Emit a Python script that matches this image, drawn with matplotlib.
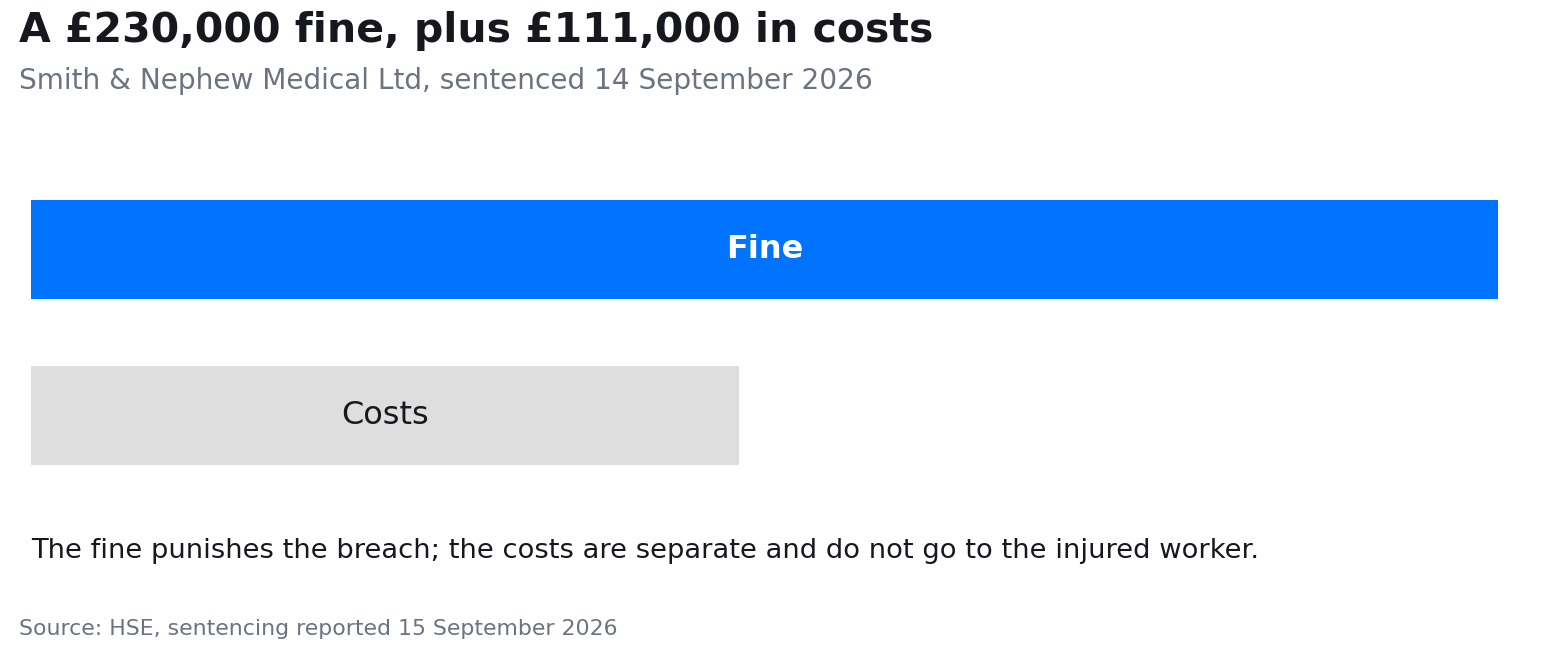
import matplotlib
matplotlib.use("Agg")
import matplotlib.pyplot as plt

# data
labels = ["Fine", "Costs"]
amounts = [230000, 111000]
bar_colors = ["#0073ff", "#dedede"]
label_colors = ["#ffffff", "#16181d"]
label_weights = ["bold", "normal"]

title = "A \u00a3230,000 fine, plus \u00a3111,000 in costs"
subtitle = "Smith & Nephew Medical Ltd, sentenced 14 September 2026"
note = "The fine punishes the breach; the costs are separate and do not go to the injured worker."
source = "Source: HSE, sentencing reported 15 September 2026"

W, H = 1558, 665
fig = plt.figure(figsize=(W / 100, H / 100), dpi=100)
fig.patch.set_facecolor("white")

# axes placed in pixel terms
ax = fig.add_axes([31 / W, 1 - 498.5 / H, 1467 / W, 332 / H])
ypos = list(range(len(labels)))
ax.barh(ypos, amounts, height=0.6, color=bar_colors, edgecolor="none")
ax.set_xlim(0, max(amounts))
ax.set_ylim(len(labels) - 0.5, -0.5)
ax.axis("off")

for y, lab, val, c, w in zip(ypos, labels, amounts, label_colors, label_weights):
    ax.text(val / 2, y, lab, ha="center", va="center", color=c,
            fontsize=23, fontweight=w)

fig.text(19 / W, 1 - 42 / H, title, fontsize=29.5, fontweight="bold",
         color="#16181d", va="baseline", ha="left")
fig.text(19 / W, 1 - 89 / H, subtitle, fontsize=20.2, color="#6b7280",
         va="baseline", ha="left")
fig.text(31 / W, 1 - 558 / H, note, fontsize=19.7, color="#16181d",
         va="baseline", ha="left")
fig.text(19 / W, 1 - 635 / H, source, fontsize=15.8, color="#6b7280",
         va="baseline", ha="left")

fig.savefig("out.png", dpi=100)
